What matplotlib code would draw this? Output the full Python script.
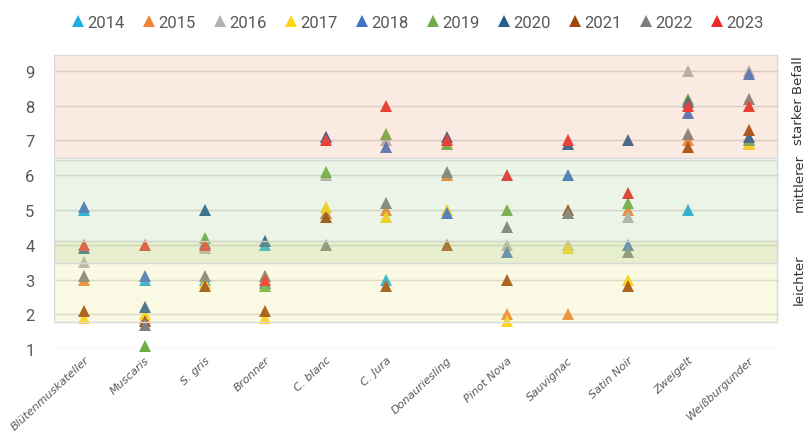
import matplotlib.pyplot as plt
from matplotlib.lines import Line2D
import numpy as np

nan = np.nan

# Sorten (x-Achse)
sorten = ["Blütenmuskateller", "Muscaris", "S. gris", "Bronner", "C. blanc", "C. Jura",
          "Donauriesling", "Pinot Nova", "Sauvignac", "Satin Noir", "Zweigelt", "Weißburgunder"]

# Befallswerte je Jahr
w2014 = [5.0, 3.0, 3.0, 4.0, 4.9, 3.0, nan, nan, nan, nan, 5.0, 7.0]
w2015 = [3.0, 1.9, nan, 3.1, 4.9, 5.0, 6.0, 2.0, 2.0, 5.0, 7.0, 6.9]
w2016 = [3.5, nan, 3.9, nan, 6.0, 7.0, nan, 4.0, 4.0, 4.8, 9.0, 9.0]
w2017 = [1.9, 2.0, 2.9, 1.9, 5.1, 4.8, 5.0, 1.8, 3.9, 3.0, nan, 6.9]
w2018 = [5.1, 3.1, 4.05, 2.9, 7.1, 6.8, 4.9, 3.8, 6.0, 4.0, 7.8, 8.9]
w2019 = [nan, 1.1, 4.2, 2.8, 6.1, 7.2, 6.9, 5.0, nan, 5.2, 8.2, 7.0]
w2020 = [3.9, 2.2, 5.0, 4.1, 7.1, nan, 7.1, nan, 6.9, 7.0, 8.1, 7.1]
w2021 = [2.1, 1.8, 2.8, 2.1, 4.8, 2.8, 4.0, 3.0, 5.0, 2.8, 6.8, 7.3]
w2022 = [3.1, 1.7, 3.1, 3.1, 4.0, 5.2, 6.1, 4.5, 4.9, 3.8, 7.2, 8.2]
w2023 = [4.0, 4.0, 4.0, 3.0, 7.0, 8.0, 7.0, 6.0, 7.0, 5.5, 8.0, 8.0]

jahre = ["2014", "2015", "2016", "2017", "2018", "2019", "2020", "2021", "2022", "2023"]
werte = [w2014, w2015, w2016, w2017, w2018, w2019, w2020, w2021, w2022, w2023]
farben = ["#1EAEE2", "#EF8535", "#B3B3B3", "#FFD41A", "#4472C4",
          "#70AD47", "#255E91", "#9E480E", "#7F7F7F", "#EC2B2B"]

# Befallsklassen (untere/obere Grenze)
stufen = ["leichter", "mittlerer", "starker Befall"]
stufen_von = [1.78, 3.47, 6.5]
stufen_bis = [4.12, 6.45, 9.45]
stufen_farbe = ["#E6E173", "#9BC882", "#EB966E"]

fig = plt.figure(figsize=(8.07, 4.39), dpi=100)
ax = fig.add_axes([0.0669, 0.2027, 0.8984, 0.6808])

x = np.arange(len(sorten))
for jahr, w, c in zip(jahre, werte, farben):
    ax.plot(x, w, linestyle="none", marker="^", markersize=9, color=c,
            markeredgewidth=0, label=jahr, zorder=3, clip_on=False)

# halbtransparente Flächen über den Punkten
for von, bis, c in zip(stufen_von, stufen_bis, stufen_farbe):
    ax.axhspan(von, bis, xmin=0.0, xmax=0.997, facecolor=c,
               edgecolor="#D9D9D9", linewidth=1.0, zorder=4)
for p in ax.patches:
    fc = p.get_facecolor()
    p.set_facecolor((fc[0], fc[1], fc[2], 0.2))

ax.set_xlim(-0.5, 11.5)
ax.set_ylim(1.0, 9.6)
ax.set_yticks(range(1, 10))
ax.set_xticks(x)
ax.set_xticklabels(sorten, rotation=43, ha="right", va="top", rotation_mode="anchor",
                   fontsize=8.1, style="italic", color="#595959")
for lbl in ax.get_yticklabels():
    lbl.set_family("Roboto")
ax.tick_params(axis="y", labelsize=12, labelcolor="#595959", length=0, pad=14)
ax.tick_params(axis="x", length=0, pad=4)
ax.grid(axis="y", color="#D9D9D9", linewidth=1.0, zorder=0)
ax.set_axisbelow(True)
for s in ax.spines.values():
    s.set_visible(False)

# Beschriftung rechts
stufen_mitte = [280, 183, 101]
for txt, ypix in zip(stufen, stufen_mitte):
    fig.text(799 / 807, 1 - ypix / 439, txt, rotation=90, ha="center", va="center",
             fontsize=9.5, color="#333333")

handles = [Line2D([], [], linestyle="none", marker="^", markersize=9, color=c,
                  markeredgewidth=0) for c in farben]
fig.legend(handles, jahre, loc="center", bbox_to_anchor=(418 / 807, 1 - 23 / 439),
           ncol=10, frameon=False, prop={"family": "Roboto", "size": 12},
           labelcolor="#595959", handlelength=0.7, handletextpad=0.2, columnspacing=1.12)

fig.savefig("out.png", dpi=100)
